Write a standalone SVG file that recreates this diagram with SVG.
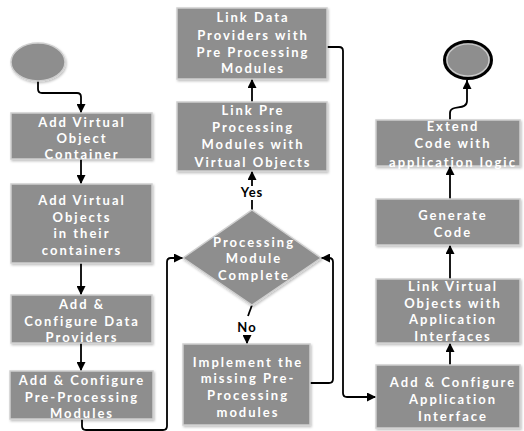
<svg xmlns="http://www.w3.org/2000/svg" width="524" height="431" viewBox="0 0 524 431">
<defs>
<marker id="ah" viewBox="0 0 10 10" refX="10" refY="5" markerWidth="9" markerHeight="9" markerUnits="userSpaceOnUse" orient="auto">
<path d="M0,0 L10,5 L0,10 z" fill="#000"/>
</marker>
<filter id="sh" x="-10%" y="-10%" width="130%" height="130%">
<feDropShadow dx="1" dy="1.5" stdDeviation="1.2" flood-color="#000" flood-opacity="0.25"/>
</filter>
</defs>
<style>
.box{fill:#8e8e8e;stroke:#cfcfcf;stroke-width:1.5;filter:url(#sh);}
.t{font-family:Lato,"Open Sans",sans-serif;font-weight:bold;font-size:13px;letter-spacing:2px;fill:#fff;text-anchor:middle;}
.lbl{font-family:Lato,"Open Sans",sans-serif;font-weight:bold;font-size:13px;letter-spacing:1px;fill:#000;text-anchor:middle;}
.c{fill:none;stroke:#000;stroke-width:1.8;}
.ca{fill:none;stroke:#000;stroke-width:1.8;marker-end:url(#ah);}
</style>
<g id="connectors">
<path class="ca" d="M38,80 V89 Q38,93 42,93 H77 Q81,93 81,97 V113"/>
<path class="ca" d="M81,159 V184"/>
<path class="ca" d="M81,263 V295"/>
<path class="ca" d="M81,343 V371"/>
<path class="ca" d="M82,419 V426 Q82,430 86,430 H163 Q167,430 167,426 V262 Q167,258 171,258 H183"/>
<path class="c" d="M252,210 V200"/>
<path class="ca" d="M252,186 V171"/>
<path class="ca" d="M252,102 V79"/>
<path class="c" d="M252,305 L248,316"/>
<path class="ca" d="M247,337 V344"/>
<path class="ca" d="M310,383 H329 Q333,383 333,379 V262 Q333,258 329,258 H321"/>
<path class="ca" d="M327,47 H339 Q343,47 343,51 V393 Q343,397 347,397 H376"/>
<path class="ca" d="M450,365 V343"/>
<path class="ca" d="M450,279 V245"/>
<path class="ca" d="M450,199 V166"/>
<path class="ca" d="M450,120 V113 C450,104 467,111 467,101 V80"/>
</g>
<g id="start"><ellipse cx="38" cy="62" rx="27" ry="19" fill="#8e8e8e" stroke="#cfcfcf" stroke-width="1.5" filter="url(#sh)"/></g>
<g id="end"><ellipse cx="468" cy="60" rx="23.5" ry="18.5" fill="#8e8e8e" stroke="#000" stroke-width="3"/><ellipse cx="468" cy="60" rx="21" ry="16" fill="none" stroke="#cfcfcf" stroke-width="1.2"/></g>
<g id="n1"><rect class="box" x="11" y="113" width="141" height="46"/>
<text class="t" x="82" y="127">Add Virtual</text><text class="t" x="82" y="143">Object</text><text class="t" x="82" y="159">Container</text></g>
<g id="n2"><rect class="box" x="11" y="184" width="141" height="79"/>
<text class="t" x="82" y="205">Add Virtual</text><text class="t" x="82" y="222">Objects</text><text class="t" x="82" y="238">in their</text><text class="t" x="82" y="255">containers</text></g>
<g id="n3"><rect class="box" x="11" y="295" width="141" height="48"/>
<text class="t" x="82" y="309">Add &amp;</text><text class="t" x="82" y="326">Configure Data</text><text class="t" x="82" y="342">Providers</text></g>
<g id="n4"><rect class="box" x="10" y="371" width="143" height="48"/>
<text class="t" x="82" y="385">Add &amp; Configure</text><text class="t" x="82" y="402">Pre-Processing</text><text class="t" x="82" y="418">Modules</text></g>
<g id="n5"><rect class="box" x="177" y="8" width="150" height="71"/>
<text class="t" x="253" y="22">Link Data</text><text class="t" x="253" y="40">Providers with</text><text class="t" x="253" y="57">Pre Processing</text><text class="t" x="253" y="73">Modules</text></g>
<g id="n6"><rect class="box" x="177" y="102" width="150" height="69"/>
<text class="t" x="253" y="115">Link Pre</text><text class="t" x="253" y="132">Processing</text><text class="t" x="253" y="149">Modules with</text><text class="t" x="253" y="167">Virtual Objects</text></g>
<g id="n7"><polygon class="box" points="252,210 321,258 252,305 183,258"/>
<text class="t" x="254" y="247">Processing</text><text class="t" x="254" y="263">Module</text><text class="t" x="254" y="280">Complete</text></g>
<g id="n8"><rect class="box" x="183" y="344" width="127" height="81"/>
<text class="t" x="248" y="367">Implement the</text><text class="t" x="248" y="383">missing Pre-</text><text class="t" x="248" y="400">Processing</text><text class="t" x="248" y="417">modules</text></g>
<g id="n9"><rect class="box" x="376" y="120" width="144" height="46"/>
<text class="t" x="453" y="131">Extend</text><text class="t" x="453" y="148">Code with</text><text class="t" x="453" y="167">application logic</text></g>
<g id="n10"><rect class="box" x="376" y="199" width="144" height="46"/>
<text class="t" x="453" y="220">Generate</text><text class="t" x="453" y="237">Code</text></g>
<g id="n11"><rect class="box" x="376" y="279" width="144" height="64"/>
<text class="t" x="453" y="291">Link  Virtual</text><text class="t" x="453" y="308">Objects with</text><text class="t" x="453" y="324">Application</text><text class="t" x="453" y="341">Interfaces</text></g>
<g id="n12"><rect class="box" x="376" y="365" width="144" height="63"/>
<text class="t" x="453" y="387">Add &amp; Configure</text><text class="t" x="453" y="404">Application</text><text class="t" x="453" y="421">Interface</text></g>
<g id="labels"><text class="lbl" x="252" y="197">Yes</text><text class="lbl" x="247" y="332">No</text></g>
</svg>
